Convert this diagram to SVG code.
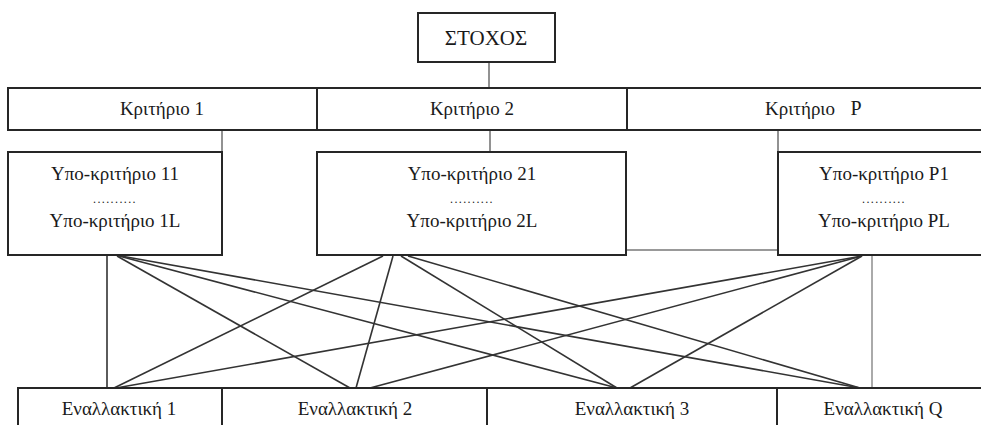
<svg xmlns="http://www.w3.org/2000/svg" width="981" height="425" viewBox="0 0 981 425">
<style>
.box{fill:#fff;stroke:#262626;stroke-width:2}
.t{font-family:"Liberation Serif","Times New Roman",serif;font-size:19px;fill:#1a1a1a;text-anchor:middle}
.big{font-size:21px}
.dots{font-size:12px;letter-spacing:1.4px}
.c{stroke:#333;stroke-width:1.6;fill:none}
.g{stroke:#777;stroke-width:1.6;fill:none}
.lg{stroke:#aaa;stroke-width:2;fill:none}
</style>
<rect width="981" height="425" fill="#fff"/>
<g id="connectors">
<line class="g" x1="489" y1="62" x2="489" y2="88"/>
<line class="g" x1="222" y1="130" x2="222" y2="152"/>
<line class="g" x1="490" y1="130" x2="490" y2="152"/>
<line class="g" x1="778" y1="130" x2="778" y2="152"/>
<line class="g" x1="626" y1="250" x2="778" y2="250"/>
<line class="c" x1="107" y1="256" x2="107" y2="388"/>
<line class="lg" x1="872" y1="256" x2="872" y2="388"/>
<line class="c" x1="117" y1="256" x2="350" y2="388"/>
<line class="c" x1="119" y1="256" x2="617" y2="388"/>
<line class="c" x1="121" y1="256" x2="860" y2="388"/>
<line class="c" x1="383" y1="256" x2="114" y2="388"/>
<line class="c" x1="393" y1="256" x2="356" y2="388"/>
<line class="c" x1="401" y1="256" x2="617" y2="388"/>
<line class="c" x1="408" y1="256" x2="860" y2="388"/>
<line class="c" x1="862" y1="256" x2="116" y2="388"/>
<line class="c" x1="862" y1="256" x2="370" y2="388"/>
<line class="c" x1="862" y1="256" x2="630" y2="388"/>
</g>
<g id="goal">
<rect class="box" x="418" y="13" width="137" height="49"/>
<text class="t big" x="486" y="45">ΣΤΟΧΟΣ</text>
</g>
<g id="crit1">
<rect class="box" x="8" y="88" width="309" height="42"/>
<text class="t" x="162" y="115">Κριτήριο 1</text>
</g>
<g id="crit2">
<rect class="box" x="317" y="88" width="310" height="42"/>
<text class="t" x="472" y="115">Κριτήριο 2</text>
</g>
<g id="critP">
<rect class="box" x="627" y="88" width="370" height="42"/>
<text class="t" x="800" y="115">Κριτήριο</text>
<text class="t" x="856" y="115" style="font-size:20px">P</text>
</g>
<g id="sub1">
<rect class="box" x="8" y="152" width="214" height="103"/>
<text class="t" x="115" y="180">Υπο-κριτήριο 11</text>
<text class="t dots" x="115" y="203">..........</text>
<text class="t" x="115" y="227">Υπο-κριτήριο 1L</text>
</g>
<g id="sub2">
<rect class="box" x="317" y="152" width="309" height="103"/>
<text class="t" x="472" y="180">Υπο-κριτήριο 21</text>
<text class="t dots" x="472" y="203">..........</text>
<text class="t" x="472" y="227">Υπο-κριτήριο 2L</text>
</g>
<g id="subP">
<rect class="box" x="778" y="152" width="220" height="103"/>
<text class="t" x="884" y="180">Υπο-κριτήριο P1</text>
<text class="t dots" x="884" y="203">..........</text>
<text class="t" x="884" y="227">Υπο-κριτήριο PL</text>
</g>
<g id="alt1">
<rect class="box" x="18" y="388" width="204" height="50"/>
<text class="t" x="119" y="415">Εναλλακτική 1</text>
</g>
<g id="alt2">
<rect class="box" x="222" y="388" width="265" height="50"/>
<text class="t" x="355" y="415">Εναλλακτική 2</text>
</g>
<g id="alt3">
<rect class="box" x="487" y="388" width="290" height="50"/>
<text class="t" x="632" y="415">Εναλλακτική 3</text>
</g>
<g id="altQ">
<rect class="box" x="777" y="388" width="220" height="50"/>
<text class="t" x="883" y="415">Εναλλακτική Q</text>
</g>
</svg>
